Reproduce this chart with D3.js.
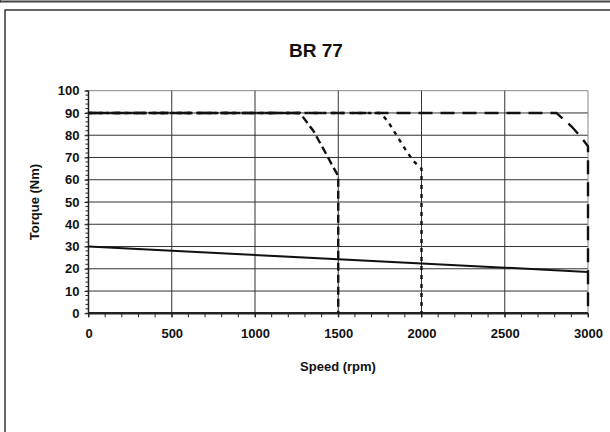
<!DOCTYPE html>
<html><head><meta charset="utf-8">
<script src="https://cdn.jsdelivr.net/npm/d3@7"></script>
<style>body{margin:0;background:#fff}svg{display:block}</style>
</head><body>
<svg id="c" width="610" height="432"></svg>
<script>
const title = "BR 77";
const xLabel = "Speed (rpm)";
const yLabel = "Torque (Nm)";
const xTicks = [0,500,1000,1500,2000,2500,3000];
const yTicks = [0,10,20,30,40,50,60,70,80,90,100];
const solidSeries = [[0,30],[3000,18.6]];
const curve1500 = [[0,90],[1270,90],[1350,82],[1410,74],[1460,67],[1490,63],[1500,61],[1500,0]];
const curve2000 = [[0,90],[1755,90],[1800,86],[1850,80],[1900,74],[1950,68.5],[2000,65],[2000,0]];
const curve3000 = [[0,90],[2810,90],[2900,84],[2960,79],[3000,75],[3000,0]];

const svg = d3.select("#c");
const font = "'Liberation Sans', Arial, sans-serif";
// frames
svg.append("line").attr("x1",0).attr("x2",610).attr("y1",1.5).attr("y2",1.5).attr("stroke","#444").attr("stroke-width",2);
svg.append("line").attr("x1",0.5).attr("x2",0.5).attr("y1",0).attr("y2",2.5).attr("stroke","#444").attr("stroke-width",1);
svg.append("rect").attr("x",5).attr("y",10).attr("width",620).attr("height",440).attr("fill","none").attr("stroke","#333").attr("stroke-width",1.5);

const L=88.5,R=588,T=90.7,B=313.3;
const x = d3.scaleLinear().domain([0,3000]).range([L,R]);
const y = d3.scaleLinear().domain([0,100]).range([B,T]);
const g = svg.append("g");
// grid
g.selectAll(".hg").data(yTicks.filter(d=>d>0)).join("line")
 .attr("x1",L).attr("x2",R).attr("y1",d=>y(d)).attr("y2",d=>y(d))
 .attr("stroke",d=>d===100?"#888":"#333").attr("stroke-width",1);
g.selectAll(".vg").data(xTicks.filter(d=>d>0)).join("line")
 .attr("x1",d=>x(d)).attr("x2",d=>x(d)).attr("y1",T).attr("y2",B)
 .attr("stroke",d=>d===3000?"#888":"#333").attr("stroke-width",1);

// axes
const yAxis = d3.axisLeft(y).tickValues(yTicks).tickFormat(d3.format("d")).tickSize(4).tickPadding(5);
const ya = svg.append("g").attr("transform",`translate(${L},0)`).call(yAxis);
const yMinor = d3.range(0,101,2);
ya.selectAll(".minor").data(yMinor).join("line").attr("class","minor")
  .attr("x1",-3).attr("x2",0).attr("y1",d=>y(d)).attr("y2",d=>y(d)).attr("stroke","#222");
const xAxis = d3.axisBottom(x).tickValues(xTicks).tickFormat(d3.format("d")).tickSize(4).tickPadding(11);
const xa = svg.append("g").attr("transform",`translate(0,${B})`).call(xAxis);
xa.selectAll(".minor").data(d3.range(0,3001,100)).join("line").attr("class","minor")
  .attr("x1",d=>x(d)).attr("x2",d=>x(d)).attr("y1",0).attr("y2",4).attr("stroke","#222");
[ya,xa].forEach(a=>{a.selectAll("text").attr("font-family",font).attr("font-weight","bold").attr("font-size",13).attr("fill","#111");
 a.selectAll(".tick line").attr("stroke","#222");
 a.select(".domain").attr("stroke","#222").attr("stroke-width", a===ya?1.5:2.5)
  .attr("d", a===ya?`M0,${B}V${T}`:`M${L},0H${R}`);});

// series
const line = d3.line().x(d=>x(d[0])).y(d=>y(d[1]));
svg.append("path").datum(solidSeries).attr("d",line).attr("fill","none").attr("stroke","#111").attr("stroke-width",2);
svg.append("path").datum(curve1500).attr("d",line).attr("fill","none").attr("stroke","#111").attr("stroke-width",2.4).attr("stroke-dasharray","8,4");
svg.append("path").datum(curve2000).attr("d",line).attr("fill","none").attr("stroke","#111").attr("stroke-width",2.4).attr("stroke-dasharray","4,5");
svg.append("path").datum(curve3000).attr("d",line).attr("fill","none").attr("stroke","#111").attr("stroke-width",2.4).attr("stroke-dasharray","14,8");

// labels
svg.append("text").attr("x",316).attr("y",57).attr("text-anchor","middle").attr("font-family",font).attr("font-weight","bold").attr("font-size",19).attr("fill","#111").text(title);
svg.append("text").attr("x",338).attr("y",371).attr("text-anchor","middle").attr("font-family",font).attr("font-weight","bold").attr("font-size",13).attr("fill","#111").text(xLabel);
svg.append("text").attr("transform",`translate(39,${(T+B)/2}) rotate(-90)`).attr("text-anchor","middle").attr("font-family",font).attr("font-weight","bold").attr("font-size",13).attr("fill","#111").text(yLabel);
</script>
</body></html>
